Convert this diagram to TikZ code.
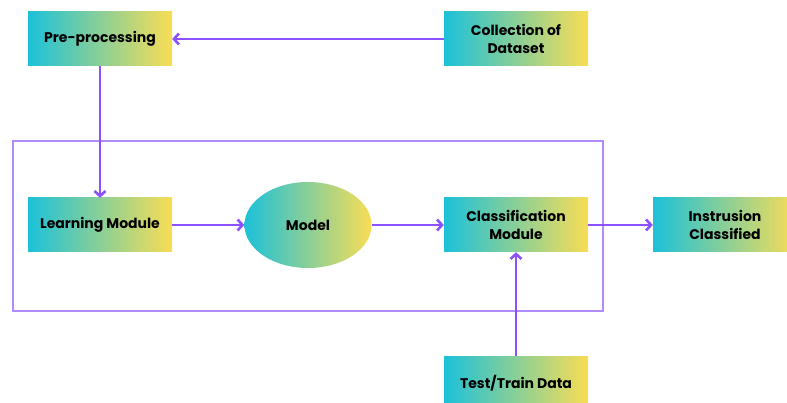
\documentclass[tikz,border=0pt]{standalone}
\usepackage{fontspec}
\setmainfont{Poppins}[UprightFont=* SemiBold, BoldFont=* Bold]
\usetikzlibrary{arrows.meta,shapes.geometric}
\definecolor{gcyan}{RGB}{28,193,217}
\definecolor{gyellow}{RGB}{249,221,85}
\definecolor{arrowpurple}{RGB}{140,82,255}
\definecolor{framepurple}{RGB}{176,140,255}
\tikzset{
  gradbox/.style={rectangle, minimum width=144pt, minimum height=54pt, inner sep=0pt,
    left color=gcyan, right color=gyellow, draw=none, align=center,
    font=\bfseries\fontsize{14}{18}\selectfont, text=black},
  gradell/.style={ellipse, minimum width=127pt, minimum height=86pt, inner sep=0pt,
    left color=gcyan, right color=gyellow, draw=none,
    font=\bfseries\fontsize{14}{18}\selectfont, text=black},
  flow/.style={draw=arrowpurple, line width=2.6pt, -{Straight Barb[length=5pt,width=11pt,line width=2.6pt]}},
}
\begin{document}
\begin{tikzpicture}[x=1pt,y=-1pt]
\useasboundingbox (0,0) rectangle (787,403);
\node[draw=framepurple, line width=1.6pt, minimum width=590pt, minimum height=170pt, inner sep=0pt] (frame) at (308,226) {};
\node[gradbox] (pre) at (100,39) {Pre-processing};
\node[gradbox] (coll) at (516,39) {Collection of\\Dataset};
\node[gradbox] (learn) at (100,225) {Learning Module};
\node[gradell] (model) at (308,225) {Model};
\node[gradbox] (class) at (516,225) {Classification\\Module};
\node[gradbox] (instr) at (725,225) {Instrusion\\Classified};
\node[gradbox] (test) at (516,383) {Test/Train Data};
\draw[flow] (coll.west) -- (pre.east);
\draw[flow] (pre.south) -- (learn.north);
\draw[flow] (learn.east) -- (model.west);
\draw[flow] (model.east) -- (class.west);
\draw[flow] (class.east) -- (instr.west);
\draw[flow] (test.north) -- (class.south);
\end{tikzpicture}
\end{document}
